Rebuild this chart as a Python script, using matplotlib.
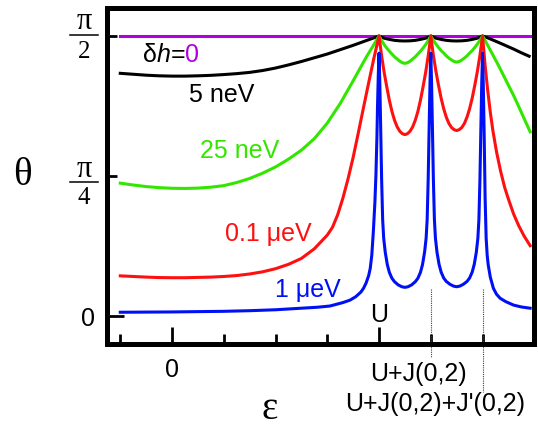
import matplotlib.pyplot as plt

plt.rcParams['font.family'] = ['Liberation Sans', 'DejaVu Sans']

# theta in degrees (90 = pi/2), epsilon in units of the tick spacing (U = 4)
x_flat = [-1.0, 6.92]
th_flat = [90.0, 90.0]

x_black = [-1.0, -0.75, -0.5, -0.25, 0.0, 0.25, 0.5, 0.75, 1.0, 1.25, 1.5, 1.75, 2.0,
           2.25, 2.5, 2.75, 3.0, 3.25, 3.5, 3.75, 4.0,
           4.05, 4.1, 4.2, 4.3, 4.4, 4.5, 4.6, 4.7, 4.8, 4.9, 4.95, 5.0,
           5.05, 5.1, 5.2, 5.3, 5.4, 5.5, 5.6, 5.7, 5.8, 5.9, 5.95, 6.0,
           6.1, 6.2, 6.3, 6.45, 6.6, 6.75, 6.9]
th_black = [78.0, 77.7, 77.4, 77.2, 77.1, 77.1, 77.2, 77.35, 77.6, 77.9, 78.3, 78.9, 79.7,
            80.7, 81.8, 83.0, 84.2, 85.6, 87.0, 88.5, 90.0,
            89.6, 89.3, 88.9, 88.6, 88.45, 88.4, 88.45, 88.6, 88.9, 89.3, 89.6, 90.0,
            89.6, 89.3, 88.9, 88.6, 88.45, 88.4, 88.45, 88.6, 88.9, 89.3, 89.6, 90.0,
            89.4, 88.7, 88.0, 86.9, 85.8, 84.6, 83.5]

x_green = [-1.0, -0.75, -0.5, -0.25, 0.0, 0.25, 0.5, 0.75, 1.0, 1.25, 1.5, 1.75, 2.0,
           2.25, 2.5, 2.75, 3.0, 3.25, 3.5, 3.75, 4.0,
           4.05, 4.1, 4.15, 4.2, 4.25, 4.3, 4.35, 4.4, 4.45, 4.5,
           4.55, 4.6, 4.65, 4.7, 4.75, 4.8, 4.85, 4.9, 4.95, 5.0,
           5.05, 5.1, 5.15, 5.2, 5.25, 5.3, 5.35, 5.4, 5.45, 5.5,
           5.55, 5.6, 5.65, 5.7, 5.75, 5.8, 5.85, 5.9, 5.95, 6.0,
           6.1, 6.2, 6.3, 6.4, 6.5, 6.6, 6.7, 6.8, 6.92]
th_green = [42.7, 42.1, 41.6, 41.25, 41.05, 41.0, 41.1, 41.4, 41.9, 42.9, 44.2, 45.9, 47.9,
            50.4, 53.3, 57.0, 62.0, 68.3, 75.6, 83.1, 90.0,
            88.5, 87.2, 86.1, 85.1, 84.2, 83.3, 82.6, 81.9, 81.4, 81.2,
            81.4, 81.9, 82.6, 83.3, 84.2, 85.1, 86.1, 87.2, 88.5, 90.0,
            88.6, 87.4, 86.3, 85.3, 84.5, 83.6, 82.9, 82.3, 81.8, 81.6,
            81.8, 82.3, 82.9, 83.6, 84.5, 85.3, 86.3, 87.4, 88.6, 90.0,
            87.0, 83.9, 80.8, 77.5, 74.2, 70.9, 67.3, 63.6, 59.2]

x_red = [-1.0, -0.75, -0.5, -0.25, 0.0, 0.25, 0.5, 0.75, 1.0, 1.25, 1.5, 1.75, 2.0,
         2.25, 2.5, 2.75, 3.0, 3.1, 3.2, 3.3, 3.4, 3.5, 3.6, 3.7, 3.8, 3.9, 4.0,
         4.05, 4.1, 4.15, 4.2, 4.25, 4.3, 4.35, 4.4, 4.45, 4.5,
         4.55, 4.6, 4.65, 4.7, 4.75, 4.8, 4.85, 4.9, 4.95, 5.0,
         5.05, 5.1, 5.15, 5.2, 5.25, 5.3, 5.35, 5.4, 5.45, 5.5,
         5.55, 5.6, 5.65, 5.7, 5.75, 5.8, 5.85, 5.9, 5.95, 6.0,
         6.05, 6.1, 6.15, 6.2, 6.27, 6.35, 6.43, 6.5, 6.6, 6.7, 6.8, 6.92]
th_red = [12.9, 12.7, 12.5, 12.35, 12.3, 12.3, 12.4, 12.5, 12.7, 13.0, 13.5, 14.2, 15.2,
          16.6, 18.5, 21.6, 26.0, 28.5, 32.5, 37.8, 44.0, 51.0, 58.9, 67.0, 75.0, 82.8, 90.0,
          83.6, 78.2, 73.6, 69.3, 65.7, 62.9, 60.8, 59.4, 58.6, 58.3,
          58.6, 59.4, 60.8, 62.9, 65.7, 69.3, 73.6, 78.2, 83.6, 90.0,
          83.8, 78.6, 74.1, 70.0, 66.6, 63.9, 61.9, 60.6, 59.9, 59.6,
          59.9, 60.6, 61.9, 63.9, 66.6, 70.0, 74.1, 78.6, 83.8, 90.0,
          80.5, 72.5, 65.5, 59.6, 52.8, 46.5, 41.2, 37.6, 32.8, 29.0, 25.8, 22.6]

x_blue = [-1.0, -0.5, 0.0, 0.5, 1.0, 1.5, 2.0, 2.5, 2.8, 3.05, 3.3, 3.44, 3.55, 3.65,
          3.7, 3.75, 3.8, 3.83, 3.86, 3.89, 3.92, 3.94, 3.96, 3.97, 3.985, 4.0,
          4.015, 4.03, 4.05, 4.07, 4.09, 4.12, 4.16, 4.2, 4.25, 4.3, 4.37, 4.44, 4.5,
          4.56, 4.63, 4.7, 4.75, 4.8, 4.84, 4.88, 4.91, 4.93, 4.95, 4.97, 4.985, 5.0,
          5.015, 5.03, 5.05, 5.07, 5.09, 5.12, 5.16, 5.2, 5.25, 5.3, 5.37, 5.44, 5.5,
          5.56, 5.63, 5.7, 5.75, 5.8, 5.84, 5.88, 5.91, 5.93, 5.95, 5.97, 5.985, 6.0,
          6.015, 6.03, 6.05, 6.07, 6.09, 6.11, 6.15, 6.21, 6.27, 6.34, 6.45, 6.6, 6.75, 6.92]
th_blue = [1.2, 1.25, 1.3, 1.4, 1.5, 1.7, 2.0, 2.5, 2.8, 3.2, 4.3, 5.1, 6.2, 7.7,
           8.9, 10.6, 13.0, 15.3, 19.5, 27.1, 36.5, 45.3, 58.0, 66.8, 77.0, 84.5,
           75.0, 62.0, 44.0, 31.0, 25.0, 20.5, 16.5, 14.0, 12.1, 11.0, 10.0, 9.4, 9.2,
           9.4, 10.0, 11.0, 12.1, 14.0, 16.5, 20.5, 25.0, 31.0, 44.0, 62.0, 75.0, 84.5,
           75.0, 62.0, 44.0, 31.0, 25.0, 20.5, 16.6, 14.1, 12.2, 11.1, 10.2, 9.6, 9.4,
           9.6, 10.2, 11.1, 12.2, 14.1, 16.6, 20.5, 25.0, 31.0, 44.0, 62.0, 75.0, 84.5,
           74.0, 60.0, 38.0, 25.0, 19.5, 16.4, 12.5, 8.9, 7.0, 5.7, 4.6, 3.5, 2.9, 2.5]

purple = '#B000E0'
green = '#33E600'
red = '#FF1010'
blue = '#0010F5'

fig = plt.figure(figsize=(5.38, 4.28), dpi=100)
ax = fig.add_axes([0.198, 0.1963, 0.7946, 0.7843])
ax.set_xlim(-1.266, 6.995)
ax.set_ylim(-9.0, 98.9)

lw = 2.2
ax.plot(x_flat, th_flat, color=purple, lw=lw)
ax.plot(x_black, th_black, color='black', lw=lw)
ax.plot(x_green, th_green, color=green, lw=lw)
ax.plot(x_red, th_red, color=red, lw=lw)
ax.plot(x_blue, th_blue, color=blue, lw=lw)

for s in ax.spines.values():
    s.set_linewidth(3.6)

ax.set_xticks([0, 4])
ax.set_xticks([-1, 1, 2, 3, 5, 6], minor=True)
ax.set_yticks([0])
ax.set_yticks([45, 90], minor=True)
ax.tick_params(which='both', direction='in', width=2, labelbottom=False, labelleft=False)
ax.tick_params(which='major', length=12.5)
ax.tick_params(which='minor', length=7)

fs = 18
# curve labels
t1 = ax.text(-0.56, 81.6, 'δ', fontsize=fs, va='baseline')
t2 = ax.annotate('h', xy=(1, 0), xycoords=t1, va='bottom', fontsize=fs, style='italic')
t3 = ax.annotate('=', xy=(1, 0), xycoords=t2, va='bottom', fontsize=fs)
ax.annotate('0', xy=(1, 0), xycoords=t3, va='bottom', fontsize=fs, color=purple)
ax.text(0.966, 68.8, '5 neV', fontsize=fs, ha='center', va='baseline')
ax.text(1.314, 50.8, '25 neV', fontsize=fs, ha='center', va='baseline', color=green)
ax.text(1.855, 24.1, '0.1 μeV', fontsize=fs, ha='center', va='baseline', color=red)
ax.text(2.628, 6.0, '1 μeV', fontsize=fs, ha='center', va='baseline', color=blue)

# x axis annotations
ax.text(4.0, -2.0, 'U', fontsize=fs, ha='center', va='baseline')
ax.text(0.0, -19.5, '0', fontsize=fs, ha='center', va='baseline', clip_on=False)
ax.text(4.77, -20.8, 'U+J(0,2)', fontsize=fs, ha='center', va='baseline', clip_on=False)
ax.text(5.08, -30.6, "U+J(0,2)+J'(0,2)", fontsize=fs, ha='center', va='baseline', clip_on=False)
ax.plot([5, 5], [8.7, -13.2], ls=(0, (1, 1)), lw=0.8, color='0.25', clip_on=False)
ax.plot([6, 6], [8.7, -24.4], ls=(0, (1, 1)), lw=0.8, color='0.25', clip_on=False)

# y axis labels
serif = ['Liberation Serif', 'DejaVu Serif']
ax.text(-1.623, -3.1, '0', fontsize=fs, ha='center', va='baseline', clip_on=False)
for num_y, line_y, den_y, den in [(92.2, 90.3, 82.8, '2'), (44.8, 43.2, 36.0, '4')]:
    ax.text(-1.70, num_y, 'π', fontsize=22, family=serif, ha='center', va='baseline', clip_on=False)
    ax.plot([-1.971, -1.430], [line_y, line_y], color='black', lw=1.1, clip_on=False)
    ax.text(-1.70, den_y, den, fontsize=18, family=serif, ha='center', va='baseline', clip_on=False)

ax.text(-2.9, 42.1, 'θ', fontsize=28, family=serif, ha='center', va='baseline', clip_on=False)
ax.text(1.894, -33.1, 'ε', fontsize=28, family=serif, ha='center', va='baseline', clip_on=False)

fig.savefig('out.png', dpi=100)
